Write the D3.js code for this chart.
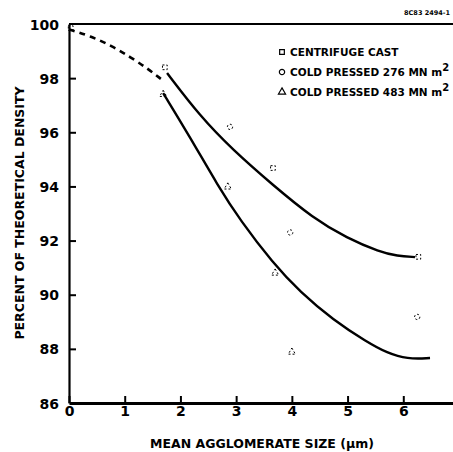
<!DOCTYPE html>
<html><head><meta charset="utf-8">
<script src="https://cdn.jsdelivr.net/npm/d3@7"></script>
<style>body{margin:0;background:#fff}svg{display:block}text{font-family:"DejaVu Sans",sans-serif;font-weight:bold;fill:#000}</style>
</head><body><div id="chart"></div>
<script>
// ---- data ----
const xTicks = [0,1,2,3,4,5,6,7];
const xTickLabels = [0,1,2,3,4,5,6];
const yTicks = [86,88,90,92,94,96,98,100];
const legendLabels = ["CENTRIFUGE CAST","COLD PRESSED 276 MN m","COLD PRESSED 483 MN m"];
const centrifugeCast = [[0.03,99.85],[1.72,98.4],[3.66,94.68],[6.27,91.4]];
const coldPressed276 = [[2.89,96.2],[3.97,92.3],[6.25,89.18]];
const coldPressed483 = [[1.69,97.4],[2.85,93.98],[3.7,90.8],[4.0,87.88]];
const dashedCurve = [[0.0,99.8],[0.38,99.56],[0.77,99.19],[1.1,98.78],[1.4,98.37],[1.65,97.97]];
const upperCurve = [[1.76,98.19],[2.35,96.6],[2.94,95.35],[3.66,94.05],[4.38,92.83],[4.99,92.09],[5.58,91.58],[5.89,91.43],[6.21,91.39]];
const lowerCurve = [[1.69,97.45],[2.17,95.83],[2.68,94.0],[3.07,92.76],[3.66,91.17],[4.15,90.1],[4.74,89.07],[5.35,88.25],[5.71,87.85],[6.07,87.62],[6.48,87.66]];
const xLabel = "MEAN AGGLOMERATE SIZE (\u03bcm)";
const yLabel = "PERCENT OF THEORETICAL DENSITY";
const refCode = "8C83 2494-1";

const W = 453, H = 452;
const svg = d3.select("#chart").append("svg").attr("width", W).attr("height", H);
const x = d3.scaleLinear().domain([0,7]).range([69,459]);
const y = d3.scaleLinear().domain([86,100]).range([403,24]);

// frame
svg.append("line").attr("x1",x(0)).attr("x2",x(7)).attr("y1",y(100)).attr("y2",y(100)).attr("stroke","#000").attr("stroke-width",2);
// axes
const xAxis = d3.axisBottom(x).tickValues(xTicks).tickSize(0).tickFormat(d=>xTickLabels.includes(d)?d3.format("d")(d):"");
const gx = svg.append("g").attr("transform",`translate(0,${y(86)})`).call(xAxis);
gx.select(".domain").attr("stroke","#000").attr("stroke-width",3);
gx.selectAll("text").attr("font-size",14).attr("dy",0).attr("y",13);
gx.selectAll(".tick").append("line").attr("y1",0).attr("y2",-7).attr("stroke","#000").attr("stroke-width",2);

const yAxis = d3.axisLeft(y).tickValues(yTicks).tickSize(0).tickFormat(d3.format("d"));
const gy = svg.append("g").attr("transform",`translate(${x(0)},0)`).call(yAxis);
gy.select(".domain").attr("stroke","#000").attr("stroke-width",2.2);
gy.selectAll("text").attr("font-size",14).attr("x",-10).attr("dy","0.36em");
gy.selectAll(".tick").filter(d=>d!==86 && d!==100).append("line").attr("x1",0).attr("x2",7).attr("stroke","#000").attr("stroke-width",2);

// curves
const line = d3.line().x(d=>x(d[0])).y(d=>y(d[1])).curve(d3.curveBasis);
svg.append("path").datum(dashedCurve).attr("d",line).attr("fill","none").attr("stroke","#000").attr("stroke-width",2.6).attr("stroke-dasharray","6,5");
svg.append("path").datum(upperCurve).attr("d",line).attr("fill","none").attr("stroke","#000").attr("stroke-width",2.4);
svg.append("path").datum(lowerCurve).attr("d",line).attr("fill","none").attr("stroke","#000").attr("stroke-width",2.4);

// markers
const sq = d3.symbol().type(d3.symbolSquare).size(22);
const ci = d3.symbol().type(d3.symbolCircle).size(22);
const tr = d3.symbol().type(d3.symbolTriangle).size(22);
function marks(data, sym){
  svg.append("g").selectAll("path").data(data).join("path")
    .attr("transform",d=>`translate(${x(d[0])},${y(d[1])})`).attr("d",sym)
    .attr("fill","none").attr("stroke","#000").attr("stroke-width",1).attr("stroke-dasharray","2,2");
}
marks(centrifugeCast, sq);
marks(coldPressed276, ci);
marks(coldPressed483, tr);

// legend
const legSyms = [sq, ci, tr];
const legY = [52,72,92];
legendLabels.forEach((t,i)=>{
  svg.append("path").attr("transform",`translate(282,${legY[i]})`).attr("d",legSyms[i])
    .attr("fill","none").attr("stroke","#000").attr("stroke-width",1.2);
  const tx = svg.append("text").attr("x",290).attr("y",legY[i]).attr("dy","0.36em").attr("font-size",10.5).text(t);
  if(i>0) tx.append("tspan").attr("dy","-0.5em").attr("font-size",10).text("2");
});

// labels
svg.append("text").attr("x",262).attr("y",443).attr("dy","0.36em").attr("text-anchor","middle").attr("font-size",12.5).text(xLabel);
svg.append("text").attr("transform","translate(19,213) rotate(-90)").attr("dy","0.36em").attr("text-anchor","middle").attr("font-size",12.5).text(yLabel);
svg.append("text").attr("x",450).attr("y",13).attr("dy","0.36em").attr("text-anchor","end").attr("font-size",6.5).text(refCode);
</script></body></html>
